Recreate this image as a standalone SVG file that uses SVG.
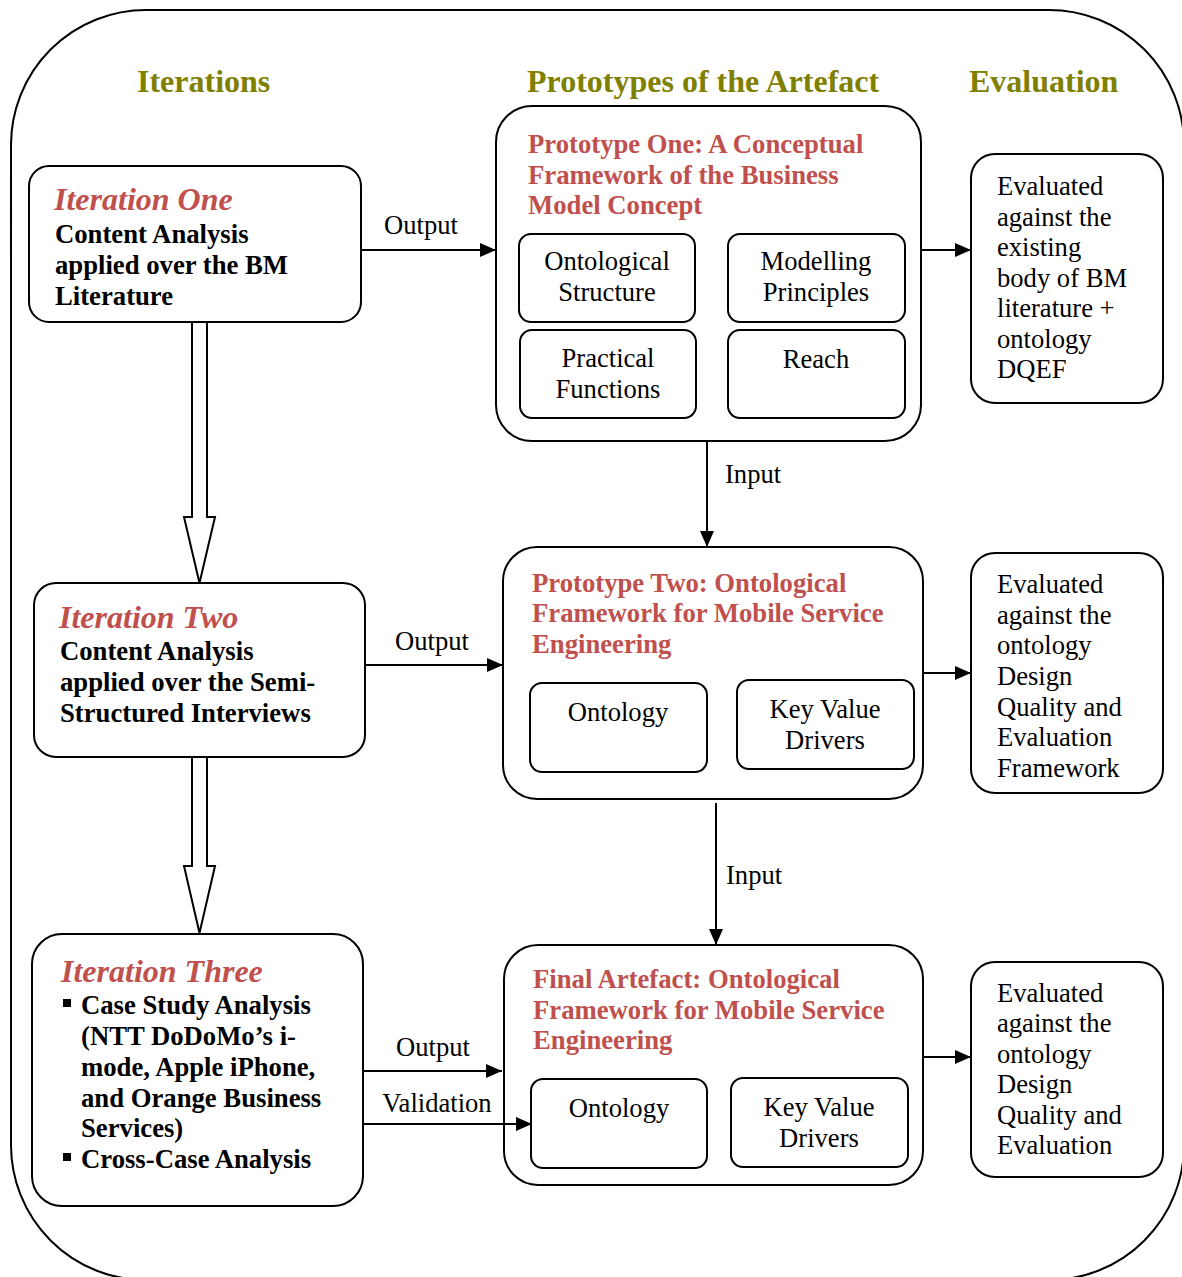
<svg xmlns="http://www.w3.org/2000/svg" width="1182" height="1277" viewBox="0 0 1182 1277">
  <defs>
    <style>
      text { font-family: "Liberation Serif", "Times New Roman", serif; fill: #000; }
      .hdr { font-size: 32px; font-weight: bold; fill: #808000; }
      .ititle { font-size: 32px; font-weight: bold; font-style: italic; fill: #C0504D; }
      .ptitle { font-size: 26.7px; font-weight: bold; fill: #C0504D; }
      .bold { font-size: 26.7px; font-weight: bold; }
      .reg { font-size: 26.6px; }
      .mid { text-anchor: middle; }
      .box { fill: #fff; stroke: #000; stroke-width: 2; }
      .line { fill: none; stroke: #000; stroke-width: 2; }
      .hollow { fill: #fff; stroke: #000; stroke-width: 2; stroke-linejoin: miter; }
    </style>
    <marker id="arrow" markerUnits="userSpaceOnUse" markerWidth="18" markerHeight="16" refX="16" refY="7" orient="auto">
      <path d="M0,0 L16,7 L0,14 Z" fill="#000"/>
    </marker>
  </defs>

  <!-- outer frame -->
  <rect x="11" y="10" width="1173" height="1270" rx="135" ry="135" fill="none" stroke="#000" stroke-width="2"/>

  <!-- column headings -->
  <g id="headings">
    <text class="hdr" x="137" y="92">Iterations</text>
    <text class="hdr" x="527" y="92">Prototypes of the Artefact</text>
    <text class="hdr" x="969" y="92">Evaluation</text>
  </g>

  <!-- iterations -->
  <g id="iteration-one">
    <rect class="box" x="29" y="166" width="332" height="156" rx="20"/>
    <text class="ititle" x="54" y="210">Iteration One</text>
    <text class="bold" x="55" y="243">Content Analysis</text>
    <text class="bold" x="55" y="274">applied over the BM</text>
    <text class="bold" x="55" y="305">Literature</text>
  </g>

  <g id="iteration-two">
    <rect class="box" x="34" y="583" width="331" height="174" rx="22"/>
    <text class="ititle" x="59" y="628">Iteration Two</text>
    <text class="bold" x="60" y="660">Content Analysis</text>
    <text class="bold" x="60" y="691">applied over the Semi-</text>
    <text class="bold" x="60" y="722">Structured Interviews</text>
  </g>

  <g id="iteration-three">
    <rect class="box" x="32" y="934" width="331" height="272" rx="30"/>
    <text class="ititle" x="61" y="982">Iteration Three</text>
    <rect x="63" y="999" width="8" height="8" fill="#000"/>
    <text class="bold" x="81" y="1014">Case Study Analysis</text>
    <text class="bold" x="81" y="1045">(NTT DoDoMo’s i-</text>
    <text class="bold" x="81" y="1076">mode, Apple iPhone,</text>
    <text class="bold" x="81" y="1107">and Orange Business</text>
    <text class="bold" x="81" y="1137">Services)</text>
    <rect x="63" y="1153" width="8" height="8" fill="#000"/>
    <text class="bold" x="81" y="1168">Cross-Case Analysis</text>
  </g>

  <!-- prototypes -->
  <g id="prototype-one">
    <rect class="box" x="496" y="106" width="425" height="335" rx="36"/>
    <text class="ptitle" x="528" y="153">Prototype One: A Conceptual</text>
    <text class="ptitle" x="528" y="184">Framework of the Business</text>
    <text class="ptitle" x="528" y="214">Model Concept</text>
    <g id="p1-ontological-structure">
      <rect class="box" x="519" y="234" width="176" height="88" rx="12"/>
      <text class="reg mid" x="607" y="270">Ontological</text>
      <text class="reg mid" x="607" y="301">Structure</text>
    </g>
    <g id="p1-modelling-principles">
      <rect class="box" x="728" y="234" width="177" height="88" rx="12"/>
      <text class="reg mid" x="816" y="270">Modelling</text>
      <text class="reg mid" x="816" y="301">Principles</text>
    </g>
    <g id="p1-practical-functions">
      <rect class="box" x="520" y="330" width="176" height="88" rx="12"/>
      <text class="reg mid" x="608" y="367">Practical</text>
      <text class="reg mid" x="608" y="398">Functions</text>
    </g>
    <g id="p1-reach">
      <rect class="box" x="728" y="330" width="177" height="88" rx="12"/>
      <text class="reg mid" x="816" y="368">Reach</text>
    </g>
  </g>

  <g id="prototype-two">
    <rect class="box" x="503" y="547" width="420" height="252" rx="34"/>
    <text class="ptitle" x="532" y="592">Prototype Two: Ontological</text>
    <text class="ptitle" x="532" y="622">Framework for Mobile Service</text>
    <text class="ptitle" x="532" y="653">Engineering</text>
    <g id="p2-ontology">
      <rect class="box" x="530" y="683" width="177" height="89" rx="12"/>
      <text class="reg mid" x="618" y="721">Ontology</text>
    </g>
    <g id="p2-key-value-drivers">
      <rect class="box" x="737" y="680" width="177" height="89" rx="12"/>
      <text class="reg mid" x="825" y="718">Key Value</text>
      <text class="reg mid" x="825" y="749">Drivers</text>
    </g>
  </g>

  <g id="final-artefact">
    <rect class="box" x="504" y="945" width="419" height="240" rx="34"/>
    <text class="ptitle" x="533" y="988">Final Artefact: Ontological</text>
    <text class="ptitle" x="533" y="1019">Framework for Mobile Service</text>
    <text class="ptitle" x="533" y="1049">Engineering</text>
    <g id="fa-ontology">
      <rect class="box" x="531" y="1079" width="176" height="89" rx="12"/>
      <text class="reg mid" x="619" y="1117">Ontology</text>
    </g>
    <g id="fa-key-value-drivers">
      <rect class="box" x="731" y="1078" width="177" height="89" rx="12"/>
      <text class="reg mid" x="819" y="1116">Key Value</text>
      <text class="reg mid" x="819" y="1147">Drivers</text>
    </g>
  </g>

  <!-- evaluation -->
  <g id="evaluation-one">
    <rect class="box" x="971" y="154" width="192" height="249" rx="24"/>
    <text class="reg" x="997" y="195">Evaluated</text>
    <text class="reg" x="997" y="226">against the</text>
    <text class="reg" x="997" y="256">existing</text>
    <text class="reg" x="997" y="287">body of BM</text>
    <text class="reg" x="997" y="317">literature +</text>
    <text class="reg" x="997" y="348">ontology</text>
    <text class="reg" x="997" y="378">DQEF</text>
  </g>

  <g id="evaluation-two">
    <rect class="box" x="971" y="553" width="192" height="240" rx="24"/>
    <text class="reg" x="997" y="593">Evaluated</text>
    <text class="reg" x="997" y="624">against the</text>
    <text class="reg" x="997" y="654">ontology</text>
    <text class="reg" x="997" y="685">Design</text>
    <text class="reg" x="997" y="716">Quality and</text>
    <text class="reg" x="997" y="746">Evaluation</text>
    <text class="reg" x="997" y="777">Framework</text>
  </g>

  <g id="evaluation-three">
    <rect class="box" x="971" y="962" width="192" height="215" rx="24"/>
    <text class="reg" x="997" y="1002">Evaluated</text>
    <text class="reg" x="997" y="1032">against the</text>
    <text class="reg" x="997" y="1063">ontology</text>
    <text class="reg" x="997" y="1093">Design</text>
    <text class="reg" x="997" y="1124">Quality and</text>
    <text class="reg" x="997" y="1154">Evaluation</text>
  </g>

  <!-- connectors, drawn over the boxes -->
  <g id="connectors">
    <line class="line" x1="361" y1="250" x2="496" y2="250" marker-end="url(#arrow)"/>
    <text class="reg" x="421" y="234" text-anchor="middle">Output</text>
    <line class="line" x1="922" y1="250" x2="971" y2="250" marker-end="url(#arrow)"/>

    <line class="line" x1="707" y1="441" x2="707" y2="547" marker-end="url(#arrow)"/>
    <text class="reg" x="725" y="483">Input</text>

    <line class="line" x1="365" y1="665" x2="503" y2="665" marker-end="url(#arrow)"/>
    <text class="reg" x="432" y="650" text-anchor="middle">Output</text>
    <line class="line" x1="924" y1="673" x2="971" y2="673" marker-end="url(#arrow)"/>

    <line class="line" x1="716" y1="803" x2="716" y2="945" marker-end="url(#arrow)"/>
    <text class="reg" x="726" y="884">Input</text>

    <line class="line" x1="363" y1="1071" x2="502" y2="1071" marker-end="url(#arrow)"/>
    <text class="reg" x="433" y="1056" text-anchor="middle">Output</text>
    <line class="line" x1="363" y1="1124" x2="532" y2="1124" marker-end="url(#arrow)"/>
    <text class="reg" x="437" y="1112" text-anchor="middle">Validation</text>

    <line class="line" x1="924" y1="1057" x2="971" y2="1057" marker-end="url(#arrow)"/>

    <!-- hollow block arrows between iterations -->
    <polygon class="hollow" points="192,322 207,322 207,517 215,517 199.5,583 184,517 192,517"/>
    <polygon class="hollow" points="192,757 207,757 207,866 215,866 199.5,933 184,866 192,866"/>
  </g>
</svg>
